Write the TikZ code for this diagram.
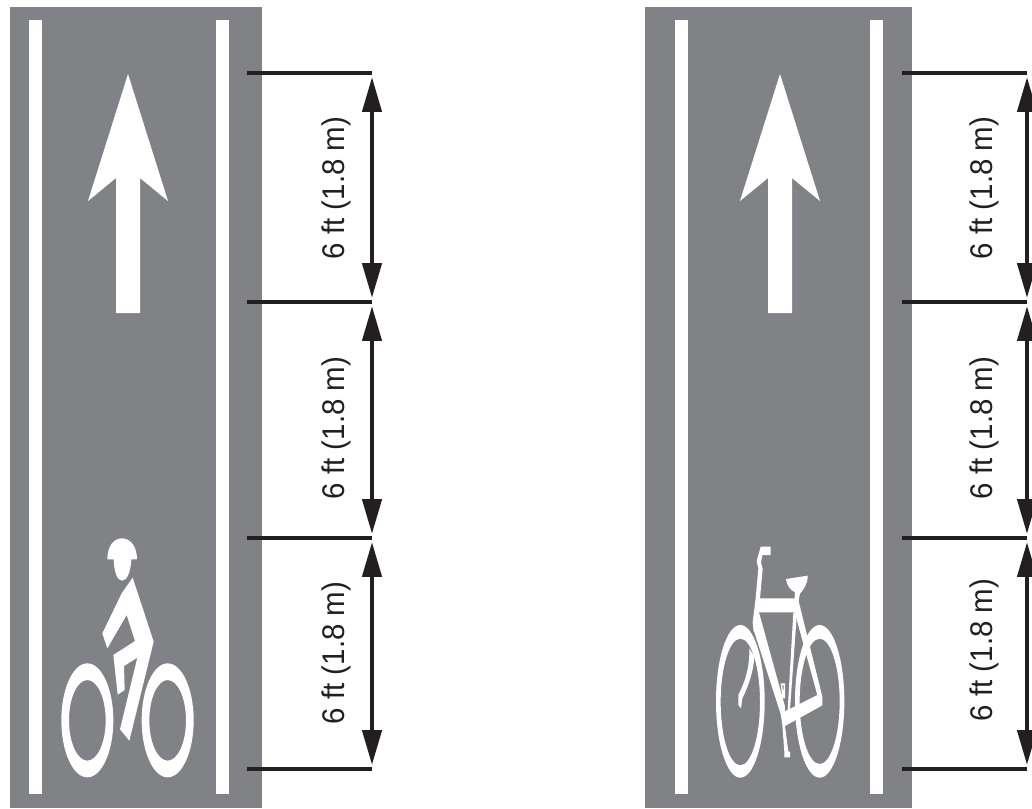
\documentclass[tikz,border=0pt]{standalone}
\usepackage{fontspec}
\setmainfont{Liberation Sans}
\usetikzlibrary{arrows.meta}
\definecolor{roadgray}{HTML}{808285}
\definecolor{inkblack}{HTML}{231F20}

\begin{document}
\begin{tikzpicture}[
        x=0.75pt, y=-0.75pt, % Координаты в пикселях
        road/.style = {fill=roadgray},
        paint/.style = {fill=white},
        tick/.style = {draw=inkblack, line width=2.6pt},
        dim/.style = {draw=inkblack, line width=2.6pt, shorten <=3.2pt, shorten >=3.2pt,
                {Triangle[length=26pt, width=14.5pt]}-{Triangle[length=26pt, width=14.5pt]}},
        size/.style = {rotate=90, xscale=0.94, inner sep=0pt, font=\fontsize{23.5pt}{26pt}\selectfont, text=inkblack},
    ]
    \useasboundingbox (0,0) rectangle (1032,808);

    % Левая полоса
    \fill[road] (10,7) rectangle (262,808);
    \fill[paint] (29,20) rectangle (42,794);
    \fill[paint] (216,20) rectangle (229,794);
    \fill[paint] (128,74) -- (168,201) -- (140,178) -- (140,313) -- (116,313) -- (116,178) -- (88,201) -- cycle;

    % Правая полоса
    \fill[road] (645,7) rectangle (912,808);
    \fill[paint] (675,20) rectangle (688,794);
    \fill[paint] (870,20) rectangle (883,794);
    \fill[paint] (780,74) -- (820,201) -- (792,178) -- (792,313) -- (768,313) -- (768,178) -- (740,201) -- cycle;

    % Велосипедист
    \begin{scope}[shift={(50,530)}, x=0.25pt, y=-0.25pt]
        \fill[paint, even odd rule] (112,571) ellipse [x radius=78, y radius=171] (112,571) ellipse [x radius=55, y radius=121];
        \fill[paint, even odd rule] (353,571) ellipse [x radius=78, y radius=171] (353,571) ellipse [x radius=55, y radius=121];
        \fill[paint] (172,88) .. controls (172,50) and (190,25) .. (216,25) .. controls (242,25) and (261,50) .. (261,88)
            -- (244,88) .. controls (242,125) and (232,152) .. (216,152) .. controls (202,152) and (192,125) .. (191,88) -- cycle;
        \fill[paint] (248,143) -- (311,335) -- (238,632) -- (210,598) -- (262,383) -- (222,408) -- (224,480) -- (203,494)
            -- (190,375) -- (255,333) -- (230,255) -- (172,355) -- (157,310) -- (215,190) -- cycle;
    \end{scope}

    % Велосипед
    \begin{scope}[shift={(705,535)}, x=0.25pt, y=-0.25pt]
        \fill[paint, even odd rule] (106,499) ellipse [x radius=73, y radius=229] (106,501) ellipse [x radius=59, y radius=190];
        \fill[paint, even odd rule] (344,499) ellipse [x radius=74, y radius=229] (344,499) ellipse [x radius=60, y radius=188];
        % Руль и верхняя труба
        \fill[paint] (167,35) -- (197,35) -- (197,60) -- (172,60) -- (168,82) -- (173,102) -- (165,190) -- (282,190) -- (276,232)
            -- (162,232) -- (146,290) -- (143,262) -- (152,190) -- (160,100) -- (155,78) -- cycle;
        % Седло
        \fill[paint] (243,132) -- (308,122) .. controls (309,145) and (295,165) .. (285,176) -- (281,195) -- (268,195) -- (270,172)
            .. controls (255,165) and (245,150) .. (243,132) -- cycle;
        % Рама
        \fill[paint] (146,285) -- (162,232) -- (240,515) -- (240,560) -- (228,540) -- cycle;
        \fill[paint] (265,232) -- (276,232) -- (255,522) -- (248,525) -- cycle;
        \fill[paint] (280,195) -- (352,485) -- (337,480) -- (270,235) -- cycle;
        \fill[paint] (248,525) -- (337,480) -- (352,485) -- (352,510) -- (345,515) -- (240,573) -- (232,570) -- (227,535) -- cycle;
        % Подножка
        \fill[paint] (232,570) -- (240,573) -- (250,650) -- (255,650) -- (255,667) -- (238,667) -- (238,650) -- cycle;
        % Вилка
        \fill[paint] (133,340) .. controls (134,390) and (125,430) .. (100,480) -- (100,510) -- (108,520) -- (112,490)
            .. controls (132,450) and (146,405) .. (148,365) -- cycle;
        % Звезда
        \fill[paint, even odd rule] (227,445) -- (240,445) -- (240,490) -- (232,490) -- cycle (232,450) -- (236,450) -- (236,464) -- (233,464) -- cycle;
    \end{scope}

    % Размерные линии слева
    \coordinate (a0) at (372,73);
    \coordinate (a1) at (372,302);
    \coordinate (a2) at (372,538);
    \coordinate (a3) at (372,769);
    \draw[tick] (247,73) -- (a0);
    \draw[tick] (247,302) -- (a1);
    \draw[tick] (247,538) -- (a2);
    \draw[tick] (247,769) -- (a3);
    \draw[dim] (a0) -- (a1);
    \draw[dim] (a1) -- (a2);
    \draw[dim] (a2) -- (a3);
    \node[size] (la) at (336,188) {6 ft (1.8 m)};
    \node[size] (lb) at (336,428) {6 ft (1.8 m)};
    \node[size] (lc) at (336,653) {6 ft (1.8 m)};

    % Размерные линии справа
    \coordinate (b0) at (1027,73);
    \coordinate (b1) at (1027,302);
    \coordinate (b2) at (1027,538);
    \coordinate (b3) at (1027,769);
    \draw[tick] (902,73) -- (b0);
    \draw[tick] (902,302) -- (b1);
    \draw[tick] (902,538) -- (b2);
    \draw[tick] (902,769) -- (b3);
    \draw[dim] (b0) -- (b1);
    \draw[dim] (b1) -- (b2);
    \draw[dim] (b2) -- (b3);
    \node[size] (ra) at (984,188) {6 ft (1.8 m)};
    \node[size] (rb) at (984,428) {6 ft (1.8 m)};
    \node[size] (rc) at (984,650) {6 ft (1.8 m)};
\end{tikzpicture}
\end{document}
